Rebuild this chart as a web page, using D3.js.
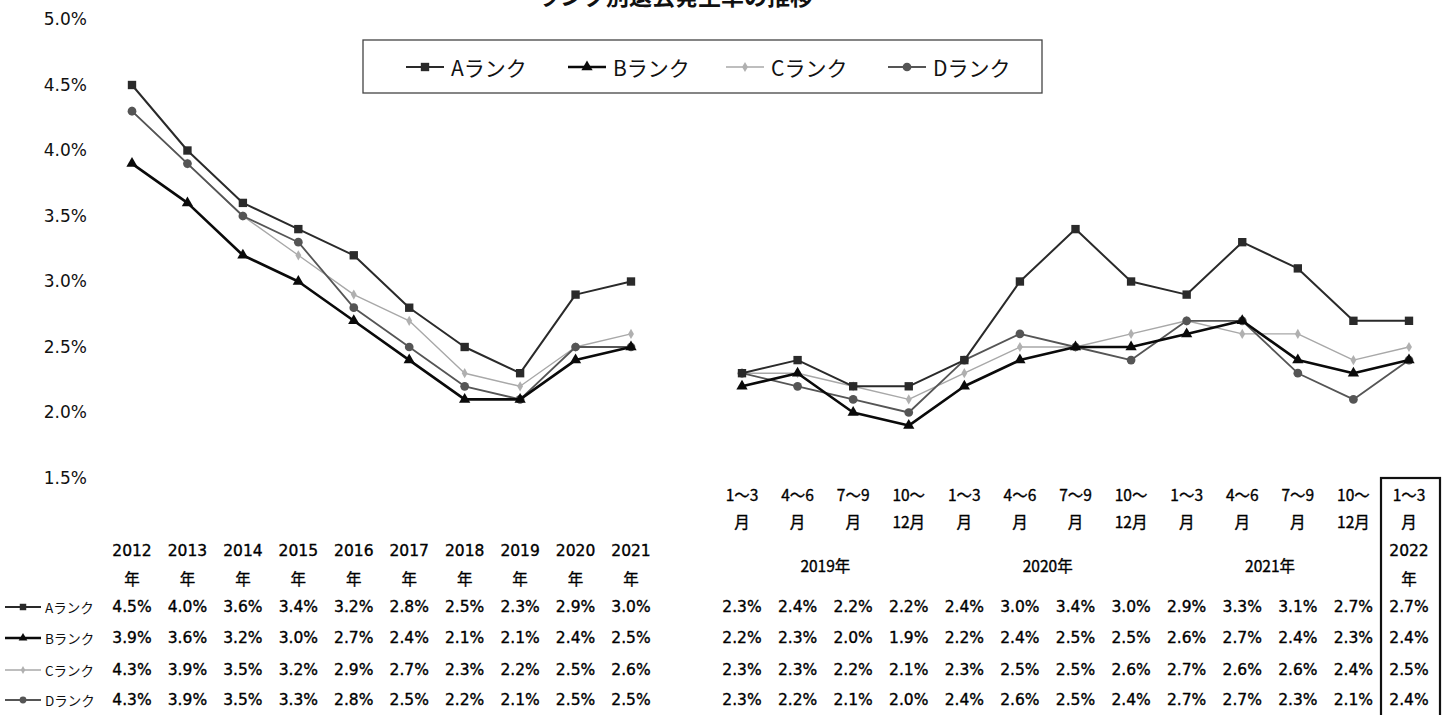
<!DOCTYPE html>
<html><head><meta charset="utf-8">
<script src="https://cdn.jsdelivr.net/npm/d3@7"></script>
<style>
body{margin:0;background:#fff;}
svg{display:block;}
text{font-family:"DejaVu Sans","Noto Sans CJK JP",sans-serif;fill:#111;}
.jp{font-family:"Noto Sans CJK JP",sans-serif;}
.tb{fill:#000;stroke:#000;stroke-width:0.35px;}
</style></head>
<body>
<svg id="c" width="1445" height="715"></svg>
<script>
const titleText = "ランク別退去発生率の推移";
const seriesNames = ["Aランク","Bランク","Cランク","Dランク"];
const years = ["2012","2013","2014","2015","2016","2017","2018","2019","2020","2021"];
const yearSuffix = "年";
const quarterLabels = ["1～3","4～6","7～9","10～","1～3","4～6","7～9","10～","1～3","4～6","7～9","10～","1～3"];
const quarterSub = ["月","月","月","12月","月","月","月","12月","月","月","月","12月","月"];
const quarterYears = ["2019年","2020年","2021年"];
const lastYear = ["2022","年"];
const yTicks = [1.5,2.0,2.5,3.0,3.5,4.0,4.5,5.0];

const annualA = [4.5,4.0,3.6,3.4,3.2,2.8,2.5,2.3,2.9,3.0];
const annualB = [3.9,3.6,3.2,3.0,2.7,2.4,2.1,2.1,2.4,2.5];
const annualC = [4.3,3.9,3.5,3.2,2.9,2.7,2.3,2.2,2.5,2.6];
const annualD = [4.3,3.9,3.5,3.3,2.8,2.5,2.2,2.1,2.5,2.5];

const quarterA = [2.3,2.4,2.2,2.2,2.4,3.0,3.4,3.0,2.9,3.3,3.1,2.7,2.7];
const quarterB = [2.2,2.3,2.0,1.9,2.2,2.4,2.5,2.5,2.6,2.7,2.4,2.3,2.4];
const quarterC = [2.3,2.3,2.2,2.1,2.3,2.5,2.5,2.6,2.7,2.6,2.6,2.4,2.5];
const quarterD = [2.3,2.2,2.1,2.0,2.4,2.6,2.5,2.4,2.7,2.7,2.3,2.1,2.4];

const annual = [annualA, annualB, annualC, annualD];
const quarterly = [quarterA, quarterB, quarterC, quarterD];

const styles = [
  {stroke:"#2a2a2a", width:2, marker:"square", size:70, fill:"#2a2a2a"},
  {stroke:"#0a0a0a", width:2.6, marker:"triangle", size:55, fill:"#0a0a0a"},
  {stroke:"#a8a8a8", width:1.4, marker:"diamond", size:30, fill:"#b0b0b0"},
  {stroke:"#555555", width:1.8, marker:"circle", size:60, fill:"#555"}
];
const symType = {square:d3.symbolSquare, triangle:d3.symbolTriangle, diamond:d3.symbolDiamond, circle:d3.symbolCircle};

const svg = d3.select("#c");
const y = d3.scaleLinear().domain([1.5,5.0]).range([478,19.5]);
const qKeys = quarterLabels.map((d,i)=>i);
const xA = d3.scalePoint().domain(years).range([132,631]);
const xQ = d3.scalePoint().domain(qKeys).range([742,1409]);

// title (top cut off as in reference)
svg.append("text").attr("class","jp").attr("x",675).attr("y",5)
  .attr("text-anchor","middle").attr("font-size",23).attr("font-weight","bold").text(titleText);

// y axis
const ax = svg.append("g").attr("transform","translate(87,0)")
  .call(d3.axisLeft(y).tickValues(yTicks).tickSize(0).tickPadding(0).tickFormat(d=>d.toFixed(1)+"%"));
ax.select(".domain").remove();
ax.selectAll("text").attr("font-size",17).attr("fill","#111")
  .style("font-family","'DejaVu Sans',sans-serif");

function marker(g, si, x0, y0, scale){
  const st = styles[si];
  g.append("path").attr("transform",`translate(${x0},${y0})`)
    .attr("d",d3.symbol().type(symType[st.marker]).size(st.size*(scale||1)))
    .attr("fill",st.fill);
}

function drawSeries(vals, si, xs, keys){
  const st = styles[si];
  const pts = vals.map((v,i)=>[xs(keys[i]), y(v)]);
  svg.append("path").attr("d",d3.line()(pts)).attr("fill","none")
    .attr("stroke",st.stroke).attr("stroke-width",st.width).attr("stroke-linejoin","round");
  pts.forEach(p=>marker(svg, si, p[0], p[1]));
}
const order=[2,3,1,0];
order.forEach(si=>{
  drawSeries(annual[si], si, xA, years);
  drawSeries(quarterly[si], si, xQ, qKeys);
});

// legend
const lg = svg.append("g");
lg.append("rect").attr("x",363).attr("y",40).attr("width",679).attr("height",53)
  .attr("fill","none").attr("stroke","#444").attr("stroke-width",1.3);
const legX = [406, 568, 726, 888];
seriesNames.forEach((n,i)=>{
  const st = styles[i];
  lg.append("line").attr("x1",legX[i]).attr("x2",legX[i]+38).attr("y1",67).attr("y2",67)
    .attr("stroke",st.stroke).attr("stroke-width",st.width);
  marker(lg, i, legX[i]+19, 67);
  lg.append("text").attr("class","jp").attr("x",legX[i]+45).attr("y",67)
    .attr("dominant-baseline","central").attr("font-size",21).text(n);
});

// table - annual
const tf = 15.5;
const hdr1 = 551, hdr2 = 578, rowY = [607,638,670,700];
function tt(x, yy, s, cls){
  return svg.append("text").attr("class","tb "+(cls||"")).attr("x",x).attr("y",yy)
    .attr("text-anchor","middle").attr("dominant-baseline","central").attr("font-size",tf).text(s);
}
years.forEach(yr=>{
  tt(xA(yr), hdr1, yr);
  tt(xA(yr), hdr2, yearSuffix, "jp");
});
seriesNames.forEach((n,si)=>{
  const st = styles[si];
  svg.append("line").attr("x1",5).attr("x2",41).attr("y1",rowY[si]).attr("y2",rowY[si])
    .attr("stroke",st.stroke).attr("stroke-width",st.width);
  marker(svg, si, 23, rowY[si], 0.6);
  svg.append("text").attr("class","jp").attr("x",45).attr("y",rowY[si])
    .attr("dominant-baseline","central").attr("font-size",13.5).text(n);
  annual[si].forEach((v,i)=>tt(xA(years[i]), rowY[si], v.toFixed(1)+"%"));
  quarterly[si].forEach((v,i)=>tt(xQ(i), rowY[si], v.toFixed(1)+"%"));
});
// quarterly header
qKeys.forEach(i=>{
  tt(xQ(i), 494, quarterLabels[i], "jp");
  tt(xQ(i), 521, quarterSub[i], "jp");
});
quarterYears.forEach((t,k)=>{
  const cx = (xQ(k*4)+xQ(k*4+3))/2;
  tt(cx, 565, t, "jp");
});
tt(xQ(12), hdr1, lastYear[0]);
tt(xQ(12), hdr2, lastYear[1], "jp");
// highlight box around latest quarter
svg.append("rect").attr("x",xQ(12)-28).attr("y",478).attr("width",59).attr("height",240)
  .attr("fill","none").attr("stroke","#111").attr("stroke-width",2.2);
</script>
</body></html>
